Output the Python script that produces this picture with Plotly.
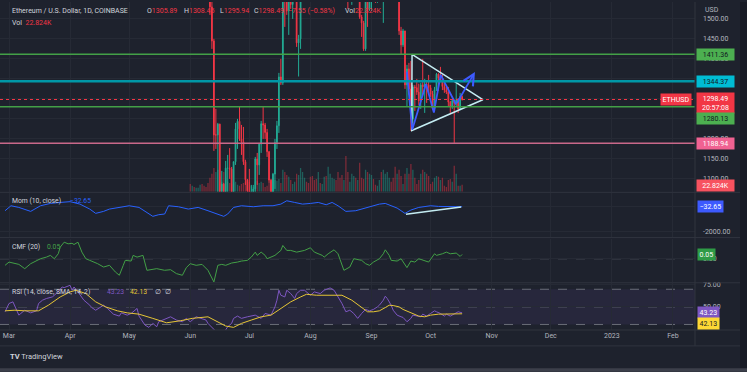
import plotly.graph_objects as go
import pandas as pd

# ---------------- DATA ----------------
candle_start = "2022-06-01"

opens_jun = [1942, 1817, 1834, 1774, 1803, 1805, 1860, 1813, 1792, 1789, 1665, 1530, 1445, 1210, 1210,
             1237, 1068, 1087, 995, 1127, 1127, 1125, 1052, 1143, 1225, 1244, 1200, 1193, 1143, 1098]
highs_jun = [1970, 1840, 1835, 1803, 1830, 1915, 1870, 1833, 1830, 1800, 1680, 1545, 1450, 1275, 1240,
             1238, 1120, 1090, 1145, 1160, 1177, 1130, 1140, 1240, 1250, 1280, 1235, 1230, 1148, 1100]
lows_jun = [1750, 1747, 1744, 1760, 1775, 1800, 1720, 1755, 1775, 1650, 1510, 1425, 1170, 1175, 1010,
            1060, 1060, 880, 975, 1045, 1100, 1045, 1048, 1135, 1175, 1195, 1160, 1135, 1085, 1000]
closes_jun = [1817, 1834, 1774, 1803, 1805, 1860, 1813, 1792, 1789, 1665, 1530, 1445, 1210, 1210, 1237,
              1068, 1087, 995, 1127, 1127, 1125, 1052, 1143, 1225, 1244, 1200, 1193, 1143, 1098, 1070]
vols_jun = [26, 20, 16, 13, 13, 23, 26, 20, 16, 29, 46, 59, 78, 65, 72,
            49, 33, 65, 46, 33, 29, 26, 29, 33, 23, 20, 26, 29, 33, 36]

opens_jul = [1070, 1060, 1067, 1075, 1150, 1135, 1187, 1238, 1235, 1216, 1168, 1097, 1038, 1112, 1191,
             1233, 1355, 1340, 1580, 1545, 1520, 1575, 1536, 1550, 1600, 1440, 1450, 1635, 1725, 1735, 1695]
highs_jul = [1125, 1085, 1085, 1155, 1165, 1190, 1245, 1280, 1240, 1225, 1170, 1100, 1115, 1200, 1245,
             1365, 1400, 1590, 1625, 1625, 1585, 1645, 1570, 1630, 1605, 1460, 1645, 1785, 1765, 1760, 1725]
lows_jul = [1035, 1040, 1035, 1052, 1085, 1110, 1165, 1200, 1200, 1155, 1090, 1035, 1005, 1075, 1175,
            1215, 1335, 1335, 1480, 1510, 1460, 1525, 1500, 1545, 1430, 1356, 1425, 1615, 1685, 1680, 1670]
closes_jul = [1060, 1067, 1075, 1150, 1135, 1187, 1238, 1235, 1216, 1168, 1097, 1038, 1112, 1191, 1233,
              1355, 1340, 1580, 1545, 1520, 1575, 1536, 1550, 1600, 1440, 1450, 1635, 1725, 1735, 1695, 1680]
vols_jul = [33, 20, 16, 33, 36, 29, 33, 29, 16, 20, 29, 33, 46, 39, 36,
            42, 29, 72, 65, 55, 49, 39, 26, 33, 59, 55, 78, 65, 46, 33, 29]

opens_aug = [1680, 1632, 1630, 1620, 1610, 1735, 1695, 1700, 1775, 1700, 1850, 1880, 1955, 1982, 1935,
             1900, 1876, 1835, 1850, 1620, 1577, 1621, 1625, 1665, 1655, 1695, 1505, 1490, 1425, 1555, 1525]
highs_aug = [1700, 1680, 1680, 1665, 1740, 1745, 1725, 1800, 1785, 1860, 1940, 1960, 2020, 2010, 2000,
             1915, 1960, 1885, 1850, 1650, 1645, 1625, 1680, 1695, 1715, 1710, 1510, 1495, 1565, 1610, 1610]
lows_aug = [1610, 1570, 1600, 1590, 1605, 1690, 1680, 1695, 1680, 1665, 1850, 1855, 1955, 1920, 1850,
            1855, 1820, 1830, 1605, 1525, 1570, 1535, 1565, 1630, 1655, 1500, 1455, 1420, 1420, 1480, 1520]
closes_aug = [1632, 1630, 1620, 1610, 1735, 1695, 1700, 1775, 1700, 1850, 1880, 1955, 1982, 1935, 1900,
              1876, 1835, 1850, 1620, 1577, 1621, 1625, 1665, 1655, 1695, 1505, 1490, 1425, 1555, 1525, 1555]
vols_aug = [49, 52, 39, 42, 65, 29, 26, 49, 52, 82, 59, 46, 42, 39, 65,
            46, 55, 39, 117, 65, 33, 59, 52, 46, 39, 95, 46, 42, 72, 65, 59]

opens_sep = [1555, 1585, 1575, 1555, 1575, 1620, 1560, 1630, 1635, 1720, 1780, 1760, 1715, 1575, 1635,
             1470, 1435, 1470, 1335, 1375, 1325, 1250, 1330, 1328, 1317, 1295, 1335, 1330, 1337, 1335]
highs_sep = [1595, 1645, 1580, 1580, 1640, 1690, 1640, 1660, 1730, 1785, 1780, 1765, 1735, 1640, 1650,
             1480, 1475, 1470, 1385, 1390, 1395, 1335, 1335, 1350, 1338, 1340, 1400, 1350, 1345, 1360]
lows_sep = [1520, 1560, 1540, 1540, 1560, 1555, 1490, 1605, 1630, 1705, 1740, 1690, 1565, 1550, 1460,
            1410, 1430, 1325, 1280, 1310, 1220, 1240, 1270, 1310, 1285, 1275, 1310, 1265, 1290, 1310]
closes_sep = [1585, 1575, 1555, 1575, 1620, 1560, 1630, 1635, 1720, 1780, 1760, 1715, 1575, 1635, 1470,
              1435, 1470, 1335, 1375, 1325, 1250, 1330, 1328, 1317, 1295, 1335, 1330, 1337, 1335, 1328]
vols_sep = [55, 42, 23, 20, 39, 65, 72, 59, 65, 46, 33, 46, 82, 59, 72,
            52, 26, 59, 78, 59, 91, 72, 46, 26, 39, 59, 72, 65, 59, 52]

opens_oct = [1328, 1312, 1276, 1323, 1362, 1352, 1352, 1331, 1322, 1317, 1292, 1280, 1296, 1289, 1297, 1275, 1305.89]
highs_oct = [1335, 1320, 1330, 1365, 1364, 1380, 1360, 1340, 1330, 1330, 1295, 1300, 1298, 1340, 1302, 1315, 1308.45]
lows_oct = [1305, 1272, 1270, 1320, 1320, 1345, 1322, 1315, 1312, 1280, 1265, 1275, 1190, 1280, 1265, 1272, 1295.94]
closes_oct = [1312, 1276, 1323, 1362, 1352, 1352, 1331, 1322, 1317, 1292, 1280, 1296, 1289, 1297, 1275, 1306.04, 1298.49]
vols_oct = [26, 33, 46, 52, 49, 39, 46, 20, 16, 39, 42, 33, 85, 59, 20, 20, 22.824]

# horizontal drawn levels
level_values = [1411.36, 1344.37, 1280.13, 1188.94]

# drawings (date, price)
tri_dates = ["2022-09-21 14:00", "2022-09-21 10:00", "2022-10-27 12:00", "2022-09-21 14:00"]
tri_prices = [1411, 1221, 1298, 1411]
zz_dates = ["2022-09-19 00:00", "2022-09-21 16:00", "2022-09-28 16:00", "2022-10-02 16:00",
            "2022-10-06 03:00", "2022-10-13 22:00"]
zz_prices = [1368, 1223, 1337, 1266, 1360, 1286]
arrow_tip_date = "2022-10-23 12:00"
arrow_tip_price = 1367

# Momentum (10, close)
mom_dates = ["2022-02-27", "2022-03-02", "2022-03-06", "2022-03-12", "2022-03-17", "2022-03-22", "2022-03-27",
             "2022-04-01", "2022-04-06", "2022-04-11", "2022-04-14", "2022-04-18", "2022-04-21", "2022-04-26",
             "2022-05-01", "2022-05-06", "2022-05-11", "2022-05-13", "2022-05-16", "2022-05-19", "2022-05-21",
             "2022-05-26", "2022-05-31", "2022-06-05", "2022-06-10", "2022-06-14", "2022-06-18", "2022-06-20",
             "2022-06-23", "2022-06-27", "2022-07-03", "2022-07-08", "2022-07-13", "2022-07-17", "2022-07-20",
             "2022-07-24", "2022-07-28", "2022-08-01", "2022-08-05", "2022-08-09", "2022-08-12", "2022-08-15",
             "2022-08-19", "2022-08-24", "2022-08-29", "2022-09-01", "2022-09-05", "2022-09-08", "2022-09-11",
             "2022-09-14", "2022-09-18", "2022-09-21", "2022-09-25", "2022-09-28", "2022-10-01", "2022-10-05",
             "2022-10-11", "2022-10-17"]
mom_values = [-348, 46, -85, -400, 46, 230, 308,
              370, 177, -216, -557, -400, -216, -85,
              46, -85, -610, -793, -662, -610, 46,
              -33, -216, -85, -348, -557, -793, -610,
              -85, 46, -33, 46, 46, 177, 440,
              308, 177, 230, 308, 125, 308, 46,
              -400, -348, -150, -33, 177, 230, 46,
              -138, -557, -295, -85, -33, 46, -6,
              -33, -32.65]
mom_trend_dates = ["2022-09-18 12:00", "2022-10-16 12:00"]
mom_trend_values = [-620, -60]

# Chaikin Money Flow (20)
cmf_dates = ["2022-02-27", "2022-03-01", "2022-03-06", "2022-03-09", "2022-03-12", "2022-03-15", "2022-03-17",
             "2022-03-20", "2022-03-22", "2022-03-24", "2022-03-26", "2022-03-27", "2022-03-29", "2022-03-31",
             "2022-04-02", "2022-04-03", "2022-04-05", "2022-04-07", "2022-04-09", "2022-04-11", "2022-04-15",
             "2022-04-18", "2022-04-21", "2022-04-24", "2022-04-26", "2022-04-28", "2022-04-29", "2022-05-02",
             "2022-05-03", "2022-05-05", "2022-05-08", "2022-05-10", "2022-05-13", "2022-05-15", "2022-05-19",
             "2022-05-22", "2022-05-25", "2022-05-28", "2022-05-30", "2022-06-01", "2022-06-04", "2022-06-07",
             "2022-06-10", "2022-06-13", "2022-06-15", "2022-06-17", "2022-06-19", "2022-06-22", "2022-06-25",
             "2022-06-27", "2022-06-30", "2022-07-02", "2022-07-04", "2022-07-05", "2022-07-07", "2022-07-09",
             "2022-07-10", "2022-07-14", "2022-07-17", "2022-07-18", "2022-07-20", "2022-07-22", "2022-07-25",
             "2022-07-29", "2022-08-01", "2022-08-03", "2022-08-07", "2022-08-08", "2022-08-10", "2022-08-13",
             "2022-08-15", "2022-08-17", "2022-08-18", "2022-08-21", "2022-08-23", "2022-08-27", "2022-08-29",
             "2022-08-31", "2022-09-02", "2022-09-05", "2022-09-07", "2022-09-08", "2022-09-10", "2022-09-11",
             "2022-09-14", "2022-09-16", "2022-09-17", "2022-09-19", "2022-09-21", "2022-09-23", "2022-09-25",
             "2022-09-27", "2022-09-30", "2022-10-03", "2022-10-04", "2022-10-07", "2022-10-09", "2022-10-11",
             "2022-10-14", "2022-10-16", "2022-10-17"]
cmf_values = [-0.077, -0.039, -0.066, -0.116, -0.058, -0.019, 0.0,
              0.019, 0.039, 0.0, 0.058, 0.135, 0.193, 0.174,
              0.18, 0.166, 0.193, 0.077, 0.0, -0.019, -0.058,
              -0.097, -0.077, -0.155, -0.193, -0.077, -0.019, -0.027,
              0.039, 0.019, 0.039, -0.135, -0.128, -0.116, -0.135,
              -0.128, -0.174, -0.193, -0.104, -0.058, -0.077, -0.066,
              -0.135, -0.271, -0.077, -0.066, -0.077, -0.05, -0.039,
              -0.027, -0.019, 0.019, 0.077, 0.039, 0.077, 0.039,
              0.0, 0.039, 0.097, 0.155, 0.097, 0.097, 0.077,
              0.097, 0.128, 0.077, 0.039, 0.019, 0.058, 0.104,
              0.058, -0.058, -0.135, -0.097, 0.0, -0.019, -0.058,
              -0.077, -0.039, 0.0, 0.058, 0.104, 0.039, -0.019,
              -0.027, 0.0, -0.039, -0.104, -0.027, -0.039, 0.0,
              -0.019, -0.039, 0.058, 0.039, 0.058, 0.077, 0.058,
              0.066, 0.027, 0.05]

# RSI (14) and its SMA (14)
rsi_dates = ["2022-02-27", "2022-03-01", "2022-03-03", "2022-03-04", "2022-03-06", "2022-03-07", "2022-03-09",
             "2022-03-12", "2022-03-15", "2022-03-16", "2022-03-18", "2022-03-20", "2022-03-23", "2022-03-25",
             "2022-03-28", "2022-03-29", "2022-04-01", "2022-04-02", "2022-04-03", "2022-04-05", "2022-04-08",
             "2022-04-11", "2022-04-12", "2022-04-14", "2022-04-18", "2022-04-20", "2022-04-23", "2022-04-26",
             "2022-04-27", "2022-04-30", "2022-05-02", "2022-05-05", "2022-05-06", "2022-05-09", "2022-05-11",
             "2022-05-13", "2022-05-15", "2022-05-16", "2022-05-20", "2022-05-22", "2022-05-25", "2022-05-28",
             "2022-05-30", "2022-06-01", "2022-06-04", "2022-06-06", "2022-06-09", "2022-06-10", "2022-06-12",
             "2022-06-14", "2022-06-15", "2022-06-18", "2022-06-20", "2022-06-22", "2022-06-23", "2022-06-25",
             "2022-06-27", "2022-06-30", "2022-07-04", "2022-07-07", "2022-07-09", "2022-07-12", "2022-07-14",
             "2022-07-15", "2022-07-16", "2022-07-17", "2022-07-19", "2022-07-20", "2022-07-22", "2022-07-24",
             "2022-07-25", "2022-07-27", "2022-07-29", "2022-08-01", "2022-08-03", "2022-08-06", "2022-08-08",
             "2022-08-10", "2022-08-11", "2022-08-13", "2022-08-15", "2022-08-17", "2022-08-19", "2022-08-21",
             "2022-08-23", "2022-08-25", "2022-08-27", "2022-08-29", "2022-08-31", "2022-09-02", "2022-09-04",
             "2022-09-05", "2022-09-07", "2022-09-08", "2022-09-09", "2022-09-11", "2022-09-12", "2022-09-14",
             "2022-09-16", "2022-09-17", "2022-09-19", "2022-09-21", "2022-09-22", "2022-09-24", "2022-09-26",
             "2022-09-27", "2022-09-29", "2022-10-01", "2022-10-03", "2022-10-04", "2022-10-06", "2022-10-08",
             "2022-10-09", "2022-10-11", "2022-10-13", "2022-10-15", "2022-10-17"]
rsi_values = [44.4, 53.8, 55.7, 50.0, 40.6, 42.5, 46.2,
              43.2, 45.5, 53.8, 57.6, 59.5, 61.3, 65.1,
              72.6, 71.9, 74.5, 68.9, 72.6, 67.0, 57.6,
              51.9, 49.2, 46.2, 51.9, 48.2, 41.7, 39.5,
              43.2, 40.6, 42.5, 48.2, 39.5, 29.3, 26.7,
              31.2, 27.4, 33.1, 36.9, 38.7, 35.0, 33.1,
              36.9, 33.1, 38.7, 36.9, 35.0, 31.2, 26.7,
              21.8, 20.0, 20.5, 27.4, 31.2, 36.9, 39.5,
              36.9, 38.7, 40.6, 36.9, 42.5, 40.6, 50.0,
              57.6, 68.9, 63.2, 61.3, 68.9, 65.1, 59.5,
              65.1, 68.9, 68.9, 63.2, 67.0, 65.1, 68.9,
              70.7, 71.5, 68.9, 61.3, 53.8, 44.4, 46.2,
              42.5, 36.9, 42.5, 47.1, 45.5, 47.1, 50.0,
              51.9, 57.6, 62.1, 59.5, 51.9, 46.2, 40.6,
              38.7, 38.0, 33.1, 36.9, 40.6, 39.5, 38.7,
              41.7, 39.5, 42.5, 45.5, 44.4, 42.5, 39.5,
              41.7, 39.5, 41.7, 44.4, 43.23]
sma_dates = ["2022-02-27", "2022-03-04", "2022-03-09", "2022-03-16", "2022-03-21", "2022-03-27", "2022-04-01",
             "2022-04-04", "2022-04-09", "2022-04-14", "2022-04-19", "2022-04-25", "2022-04-30", "2022-05-06",
             "2022-05-13", "2022-05-20", "2022-05-27", "2022-06-02", "2022-06-10", "2022-06-15", "2022-06-19",
             "2022-06-23", "2022-06-27", "2022-07-02", "2022-07-07", "2022-07-12", "2022-07-17", "2022-07-22",
             "2022-07-27", "2022-07-30", "2022-08-04", "2022-08-11", "2022-08-17", "2022-08-22", "2022-08-27",
             "2022-08-30", "2022-09-02", "2022-09-05", "2022-09-08", "2022-09-10", "2022-09-12", "2022-09-15",
             "2022-09-17", "2022-09-20", "2022-09-22", "2022-09-25", "2022-09-28", "2022-10-01", "2022-10-05",
             "2022-10-08", "2022-10-12", "2022-10-17"]
sma_values = [45.5, 46.2, 45.5, 45.5, 51.9, 61.3, 67.0,
              68.9, 65.1, 55.7, 50.0, 45.5, 43.2, 41.7,
              36.9, 31.9, 34.2, 36.9, 38.7, 33.1, 28.2,
              26.7, 31.2, 35.0, 38.7, 40.6, 48.2, 55.7,
              61.3, 64.3, 63.2, 63.2, 63.2, 57.6, 50.0,
              44.4, 44.4, 45.5, 49.2, 51.9, 51.5, 50.0,
              47.1, 44.4, 41.7, 39.5, 38.7, 40.6, 41.7,
              41.7, 41.7, 42.13]

price_ticks = [1100, 1150, 1200, 1250, 1300, 1350, 1400, 1450, 1500]
price_ticks_hidden = [1250, 1300, 1350]   # covered by price labels in the reference
month_ticks = ["2022-03-01", "2022-04-01", "2022-05-01", "2022-06-01", "2022-07-01", "2022-08-01",
               "2022-09-01", "2022-10-01", "2022-11-01", "2022-12-01", "2023-01-01", "2023-02-01"]
month_labels = ["Mar", "Apr", "May", "Jun", "Jul", "Aug", "Sep", "Oct", "Nov", "Dec", "2023", "Feb"]

# ---------------- assemble ----------------
opens = opens_jun + opens_jul + opens_aug + opens_sep + opens_oct
highs = highs_jun + highs_jul + highs_aug + highs_sep + highs_oct
lows = lows_jun + lows_jul + lows_aug + lows_sep + lows_oct
closes = closes_jun + closes_jul + closes_aug + closes_sep + closes_oct
volumes = vols_jun + vols_jul + vols_aug + vols_sep + vols_oct
dates = pd.date_range(candle_start, periods=len(opens), freq="D")

# ---------------- style ----------------
W, H = 747, 372
PLOT_W, PLOT_H = 695, 330
BG = "#1e222d"
GRID = "#262a35"
SEP = "#30343f"
TXT = "#d1d4dc"
AX = "#b2b5be"
UP = "#22ab94"
DOWN = "#f23645"
BLUE = "#2962ff"
FONT = "Roboto"


def pxx(p):
    return p / PLOT_W


def pxy(p):
    return (PLOT_H - p) / PLOT_H


fig = go.Figure()

vol_colors = ["rgba(34,171,148,0.45)" if c >= o else "rgba(242,54,69,0.45)" for o, c in zip(opens, closes)]
fig.add_trace(go.Bar(x=dates, y=volumes, marker=dict(color=vol_colors, line=dict(width=0)),
                     xaxis="x", yaxis="y", hoverinfo="skip", showlegend=False))
fig.add_trace(go.Candlestick(x=dates, open=opens, high=highs, low=lows, close=closes,
                             xaxis="x", yaxis="y5", whiskerwidth=0,
                             increasing=dict(line=dict(color=UP, width=1), fillcolor=UP),
                             decreasing=dict(line=dict(color=DOWN, width=1), fillcolor=DOWN),
                             showlegend=False))
fig.add_trace(go.Scatter(x=tri_dates, y=tri_prices, mode="lines", xaxis="x", yaxis="y5",
                         line=dict(color="#c4ecf2", width=1.5), showlegend=False))
fig.add_trace(go.Scatter(x=zz_dates, y=zz_prices, mode="lines", xaxis="x", yaxis="y5",
                         line=dict(color="#3d5afe", width=1.8), showlegend=False))

fig.add_trace(go.Scatter(x=mom_dates, y=mom_values, mode="lines", xaxis="x2", yaxis="y2",
                         line=dict(color=BLUE, width=1), showlegend=False))
fig.add_trace(go.Scatter(x=mom_trend_dates, y=mom_trend_values, mode="lines", xaxis="x2", yaxis="y2",
                         line=dict(color="#c4ecf2", width=1.5), showlegend=False))
fig.add_trace(go.Scatter(x=cmf_dates, y=cmf_values, mode="lines", xaxis="x3", yaxis="y3",
                         line=dict(color="#43a047", width=1), showlegend=False))
fig.add_trace(go.Scatter(x=rsi_dates, y=rsi_values, mode="lines", xaxis="x4", yaxis="y4",
                         line=dict(color="#7e57c2", width=1), showlegend=False))
fig.add_trace(go.Scatter(x=sma_dates, y=sma_values, mode="lines", xaxis="x4", yaxis="y4",
                         line=dict(color="#e5c536", width=1), showlegend=False))

x_range = ["2022-02-24 10:19", "2023-02-12 05:00"]
xcommon = dict(type="date", range=x_range, showgrid=True, gridcolor=GRID, gridwidth=1,
               tickvals=month_ticks, ticktext=month_labels, zeroline=False, showline=False,
               ticks="", fixedrange=True)
ycommon = dict(side="right", showgrid=True, gridcolor=GRID, zeroline=False, showline=False, ticks="",
               tickfont=dict(family=FONT, size=7, color=AX), ticklabelstandoff=7,
               fixedrange=True)

price_ticktext = ["" if t in price_ticks_hidden else f"{t:.2f}" for t in price_ticks]

fig.update_layout(
    width=W, height=H, margin=dict(l=0, r=W - PLOT_W, t=0, b=H - PLOT_H),
    paper_bgcolor=BG, plot_bgcolor=BG, showlegend=False, bargap=0.35, boxgap=0.45,
    font=dict(family=FONT, size=7, color=TXT),
    xaxis=dict(**xcommon, anchor="y", showticklabels=False, rangeslider=dict(visible=False)),
    xaxis2=dict(**xcommon, anchor="y2", showticklabels=False),
    xaxis3=dict(**xcommon, anchor="y3", showticklabels=False),
    xaxis4=dict(**xcommon, anchor="y4", showticklabels=True,
                tickfont=dict(family=FONT, size=7, color=AX)),
    yaxis=dict(domain=[pxy(191), 1], range=[0, 620], visible=False, fixedrange=True),
    yaxis5=dict(**ycommon, overlaying="y", anchor="x", range=[1067.7, 1542.2],
                tickvals=price_ticks, ticktext=price_ticktext),
    yaxis2=dict(**ycommon, domain=[pxy(236), pxy(192)], anchor="x2", range=[-2394, 1069],
                tickvals=[-2000, 0], ticktext=["-2000.00", ""]),
    yaxis3=dict(**ycommon, domain=[pxy(282), pxy(238)], anchor="x3", range=[-0.275, 0.2355],
                tickvals=[0], ticktext=["0.00"]),
    yaxis4=dict(**ycommon, domain=[0, pxy(283)], anchor="x4", range=[23.7, 76.8],
                tickvals=[50, 75], ticktext=["50.00", "75.00"]),
)

shapes = []
# RSI band and levels
shapes.append(dict(type="rect", xref="x4 domain", yref="y4", x0=0, x1=1, y0=30, y1=70,
                   fillcolor="rgba(126,87,194,0.10)", line=dict(width=0), layer="below"))
for lv in [70, 50, 30]:
    shapes.append(dict(type="line", xref="x4 domain", yref="y4", x0=0, x1=1, y0=lv, y1=lv,
                       line=dict(color="#6a6d78", width=1, dash="dash"), layer="below"))
shapes.append(dict(type="line", xref="x3 domain", yref="y3", x0=0, x1=1, y0=0, y1=0,
                   line=dict(color="#6a6d78", width=1, dash="dash"), layer="below"))
# drawn horizontal levels
level_styles = [("#43a047", 1.5), ("#0097a7", 2.5), ("#43a047", 1.5), ("#c9688a", 1.5)]
for lv, (col, wd) in zip(level_values, level_styles):
    shapes.append(dict(type="line", xref="x domain", yref="y5", x0=0, x1=1, y0=lv, y1=lv,
                       line=dict(color=col, width=wd), layer="above"))
# last price dotted line
shapes.append(dict(type="line", xref="x domain", yref="y5", x0=0, x1=1, y0=closes[-1], y1=closes[-1],
                   line=dict(color=DOWN, width=1, dash="dot"), layer="above"))
# pane separators
for yp in [191.5, 237, 282.5, 330, 346]:
    shapes.append(dict(type="line", xref="paper", yref="paper", x0=0, x1=pxx(W), y0=pxy(yp), y1=pxy(yp),
                       line=dict(color=SEP, width=1)))
shapes.append(dict(type="line", xref="paper", yref="paper", x0=1, x1=1, y0=pxy(346), y1=1,
                   line=dict(color=SEP, width=1)))
shapes.append(dict(type="rect", xref="paper", yref="paper", x0=pxx(740), x1=pxx(W), y0=pxy(H), y1=1,
                   fillcolor="#181b25", line=dict(width=0)))
shapes.append(dict(type="rect", xref="paper", yref="paper", x0=0, x1=pxx(W), y0=pxy(H), y1=pxy(368.5),
                   fillcolor="#3c3f4a", line=dict(width=0)))
fig.update_layout(shapes=shapes)

ann = []


def text(t, x, y, color=TXT, size=7, **kw):
    d = dict(text=t, xref="paper", yref="paper", x=pxx(x), y=pxy(y), xanchor="left", yanchor="middle",
             showarrow=False, font=dict(family=FONT, size=size, color=color))
    d.update(kw)
    ann.append(d)


def red(v):
    return f"<span style='color:{DOWN}'>{v}</span>"


chg = closes[-1] - closes[-2]
pct = chg / closes[-2] * 100
text("Ethereum / U.S. Dollar, 1D, COINBASE", 10, 9.5)
text("O" + red(f"{opens[-1]:.2f}"), 145, 9.5)
text("H" + red(f"{highs[-1]:.2f}"), 182, 9.5)
text("L" + red(f"{lows[-1]:.2f}"), 218, 9.5)
text("C" + red(f"{closes[-1]:.2f}"), 252, 9.5)
text(red(f"{chg:+.2f} ({pct:+.2f}%)".replace("-", "−")), 286, 9.5)
text("Vol" + red(f"{volumes[-1]:.3f}K"), 343, 9.5)
text("Vol  " + red(f"{volumes[-1]:.3f}K"), 10, 21)
text("USD", 703, 8.5, color=AX)

text("Mom (10, close)", 10, 200, size=6.8)
text(f"{mom_values[-1]:.2f}".replace("-", "−"), 68, 200, color=BLUE, size=6.8)
text("CMF (20)", 10, 246.5, size=6.8)
text(f"{cmf_values[-1]:.2f}", 45, 246.5, color="#43a047", size=6.8)
text("RSI (14, close, SMA, 14, 2)", 10, 291.5, size=6.8)
text(f"{rsi_values[-1]:.2f}", 105, 291.5, color="#7e57c2", size=6.8)
text(f"{sma_values[-1]:.2f}", 128, 291.5, color="#e5c536", size=6.8)
text("∅", 153, 291.5, size=6.8)
text("∅", 163, 291.5, size=6.8)

text("<b>TV</b> TradingView", 8, 357, color=TXT, size=7.5)


def box(t, yval, yref, bg, fg, yshift=0, width=None, height=None, xanchor="left", xshift=1, x=1.0):
    d = dict(text=t, xref="paper", yref=yref, x=x, y=yval, xanchor=xanchor, yanchor="middle",
             xshift=xshift, yshift=yshift, showarrow=False, bgcolor=bg, borderpad=1.5,
             font=dict(family=FONT, size=7, color=fg))
    if width:
        d["width"] = width
    if height:
        d["height"] = height
    ann.append(d)


DARK = "#131722"
box(f"{level_values[0]:.2f}", level_values[0], "y5", "#4caf50", DARK, width=34)
box(f"{level_values[1]:.2f}", level_values[1], "y5", "#00bcd4", DARK, width=34)
box(f"{closes[-1]:.2f}<br>20:57:08", closes[-1], "y5", DOWN, "#ffffff", yshift=-3, width=34)
box(f"{level_values[2]:.2f}", level_values[2], "y5", "#4caf50", DARK, yshift=-12, width=34)
box(f"{level_values[3]:.2f}", level_values[3], "y5", "#f06292", "#ffffff", width=34)
box("ETHUSD", closes[-1], "y5", DOWN, "#ffffff", xanchor="right", xshift=-3)
box(f"{volumes[-1]:.3f}K", volumes[-1], "y", "#f7525f", "#ffffff", width=34, yshift=-1)
box(f"{mom_values[-1]:.2f}".replace("-", "−"), mom_values[-1], "y2", "#3d5afe", "#ffffff", xshift=2)
box(f"{cmf_values[-1]:.2f}", cmf_values[-1], "y3", "#2e9b46", "#ffffff", xshift=2)
box(f"{rsi_values[-1]:.2f}", rsi_values[-1], "y4", "#7e57c2", "#ffffff", xshift=2)
box(f"{sma_values[-1]:.2f}", sma_values[-1], "y4", "#fdd835", DARK, xshift=2, yshift=-9.5)

# arrow head of the projected path
ann.append(dict(x=arrow_tip_date, y=arrow_tip_price, xref="x", yref="y5",
                ax=zz_dates[-1], ay=zz_prices[-1], axref="x", ayref="y5", text="",
                showarrow=True, arrowhead=5, arrowsize=1.2, arrowwidth=1.8, arrowcolor="#3d5afe"))

fig.update_layout(annotations=ann)
fig.write_html("out.html", config={"displayModeBar": False},
               post_script="document.body.style.margin='0';document.body.style.overflow='hidden';")
